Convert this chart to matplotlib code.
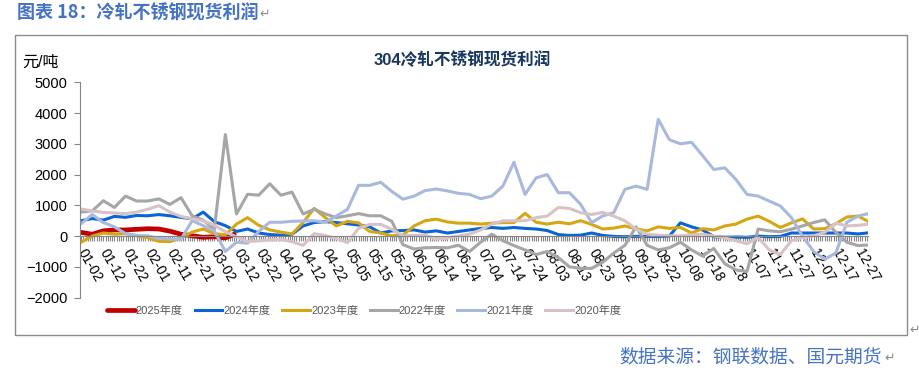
import datetime
import matplotlib.pyplot as plt
from matplotlib.patches import Rectangle

plt.rcParams['font.family'] = ['Liberation Sans', 'Noto Sans CJK SC', 'DejaVu Sans']

# x axis: calendar days (leap-year calendar) with the holiday gaps seen on the axis
gaps = ['04-04', '05-01', '05-02', '05-03', '10-01', '10-02', '10-03', '10-04', '10-05', '10-06']
days = []
d = datetime.date(2024, 1, 2)
while d.year == 2024:
    if d.strftime('%m-%d') not in gaps:
        days.append(d.strftime('%m-%d'))
    d += datetime.timedelta(days=1)

# values read every 5th day (plus the last day)
sample_days = days[::5] + [days[-1]]
days_2025 = days[0:70:5] + [days[69]]

y2025 = [120, 60, 170, 200, 200, 220, 240, 230, 160, 60, 10, -40, -20, -60, 60]

y2024 = [500, 570, 520, 640, 610, 670, 660, 700, 660, 610,
         560, 780, 470, 340, 150, 230, 100, 50, 30, 60,
         330, 440, 470, 440, 400, 360, 300, 100, 170, 180,
         200, 130, 170, 100, 150, 200, 250, 280, 250, 280,
         250, 230, 180, 50, 20, 30, 100, 20, -10, -20,
         -10, -10, -10, 0, 430, 300, 200, -20, -40, -30,
         -40, 0, -20, -10, 100, 100, 100, 100, 100, 100,
         70, 100]

y2023 = [-200, 0, 100, 60, 80, 10, -50, -170, -180, -60,
         130, 230, 80, 40, 390, 600, 350, 200, 130, 70,
         440, 900, 600, 330, 480, 430, 150, 100, 10, 30,
         330, 500, 550, 460, 420, 420, 390, 420, 440, 440,
         740, 450, 390, 450, 400, 500, 380, 230, 260, 330,
         230, 170, 300, 250, 280, 100, 240, 200, 330, 390,
         550, 650, 480, 280, 430, 560, 230, 240, 400, 620,
         650, 500]

y2022 = [780, 820, 1150, 930, 1300, 1140, 1140, 1210, 1030, 1250,
         660, 520, 220, 3300, 720, 1360, 1330, 1700, 1330, 1430,
         720, 870, 720, 600, 660, 730, 660, 660, 480, -280,
         -420, -380, -370, -380, -300, -500, -200, 60, -150, -310,
         -450, -600, -500, -700, -1000, -1050, -1050, -850, -550, -300,
         300, -300, -450, -380, -200, -450, -650, -400, -900, -1100,
         -1150, 230, 170, 140, 225, 330, 440, 530, 120, -200,
         -310, -290]

y2021 = [400, 700, 440, 300, 80, 20, 10, -80, -100, -100,
         500, 340, 170, -500, -200, -230, 150, 450, 450, 480,
         490, 500, 450, 655, 870, 1650, 1650, 1750, 1450, 1200,
         1300, 1480, 1530, 1470, 1390, 1355, 1215, 1300, 1625, 2400,
         1355, 1895, 2000, 1410, 1410, 1035, 440, 655, 765, 1520,
         1625, 1520, 3800, 3135, 3000, 3050, 2615, 2165, 2220, 1840,
         1355, 1300, 1140, 980, 600, 0, -500, -750, -550, 450,
         650, 720]

y2020 = [880, 820, 770, 750, 730, 780, 870, 990, 780, 640,
         560, 500, 350, 140, -30, -170, -160, -120, -110, -180,
         -300, 80, 20, -80, -210, 250, 380, 380, 220, 10,
         20, 30, -100, -60, 0, 65, 200, 390, 495, 495,
         500, 600, 650, 930, 900, 760, 700, 770, 650, 495,
         225, 65, 30, 10, 10, 40, 65, 0, -60, -150,
         -250, -40, -450, -600, -150, -40, 10, 120, 420, 330,
         350, 380]

names = ['2025年度', '2024年度', '2023年度', '2022年度', '2021年度', '2020年度']
colors = ['#C00000', '#0A64D6', '#D5A712', '#A6A6A6', '#A9B8DD', '#D7C2C4']

fig = plt.figure(figsize=(9.2, 3.77), dpi=100)
fig.add_artist(Rectangle((15 / 920, 1 - 335 / 377), 892 / 920, 300 / 377,
                         transform=fig.transFigure, fill=False, ec='#8c8c8c', lw=1))

ax = fig.add_axes([80 / 920, 1 - 297.6 / 377, 788 / 920, 215.3 / 377])

pos = lambda lst: [days.index(s) for s in lst]
lines = []
lines += ax.plot(pos(days_2025), y2025, color=colors[0], lw=3.4, solid_capstyle='round', label=names[0])
for vals, c, n in zip([y2024, y2023, y2022, y2021, y2020], colors[1:], names[1:]):
    lines += ax.plot(pos(sample_days), vals, color=c, lw=2.2, label=n)

ax.set_xlim(-0.5, len(days) - 0.5)
ax.set_ylim(-2000, 5000)
ax.set_yticks(range(-2000, 5001, 1000))
ax.set_xticks(range(0, len(days), 10))
ax.set_xticklabels(days[::10])
ax.set_xticks(range(len(days)), minor=True)

for s in ['top', 'right']:
    ax.spines[s].set_visible(False)
ax.spines['bottom'].set_position(('data', 0))
ax.spines['bottom'].set_color('#868686')
ax.spines['left'].set_color('#868686')
ax.tick_params(axis='y', length=4, color='#868686', labelsize=10.5, pad=5)
ax.tick_params(axis='x', which='both', length=3.3, width=0.8, color='#868686')
ax.tick_params(axis='x', labelsize=10, pad=7)
for t in ax.get_xticklabels():
    t.set_rotation(-60)
    t.set_ha('left')
    t.set_va('center')
    t.set_rotation_mode('anchor')

fig.legend(handles=lines, loc='center', bbox_to_anchor=(364 / 920, 1 - 311 / 377), ncol=6,
           frameon=False, handlelength=2.5, handletextpad=0.1,
           columnspacing=1.05, labelcolor='#595959',
           prop={'family': ['Liberation Sans', 'Noto Sans CJK SC'], 'size': 8})

fig.text(17 / 920, 1 - 13 / 377, '图表 18：冷轧不锈钢现货利润', color='#4472C4', fontsize=13,
         fontweight='bold', ha='left', va='center', family=['Noto Sans CJK SC', 'DejaVu Sans'])
fig.text(259 / 920, 1 - 14 / 377, '↵', color='#8c8c8c', fontsize=9, va='center', family=['DejaVu Sans'])
fig.text(462 / 920, 1 - 60 / 377, '304冷轧不锈钢现货利润', color='#17375E', fontsize=12,
         fontweight='bold', ha='center', va='center')
fig.text(22 / 920, 1 - 62 / 377, '元/吨', fontsize=11.5, ha='left', va='center')
fig.text(882 / 920, 1 - 357 / 377, '数据来源：钢联数据、国元期货', color='#4472C4', fontsize=13.5,
         ha='right', va='center', family=['Noto Sans CJK SC', 'DejaVu Sans'])
fig.text(884 / 920, 1 - 358 / 377, '↵', color='#8c8c8c', fontsize=9, va='center', family=['DejaVu Sans'])
fig.text(909 / 920, 1 - 330 / 377, '↵', color='#8c8c8c', fontsize=9, va='center', family=['DejaVu Sans'])

fig.savefig('out.png', dpi=100)
